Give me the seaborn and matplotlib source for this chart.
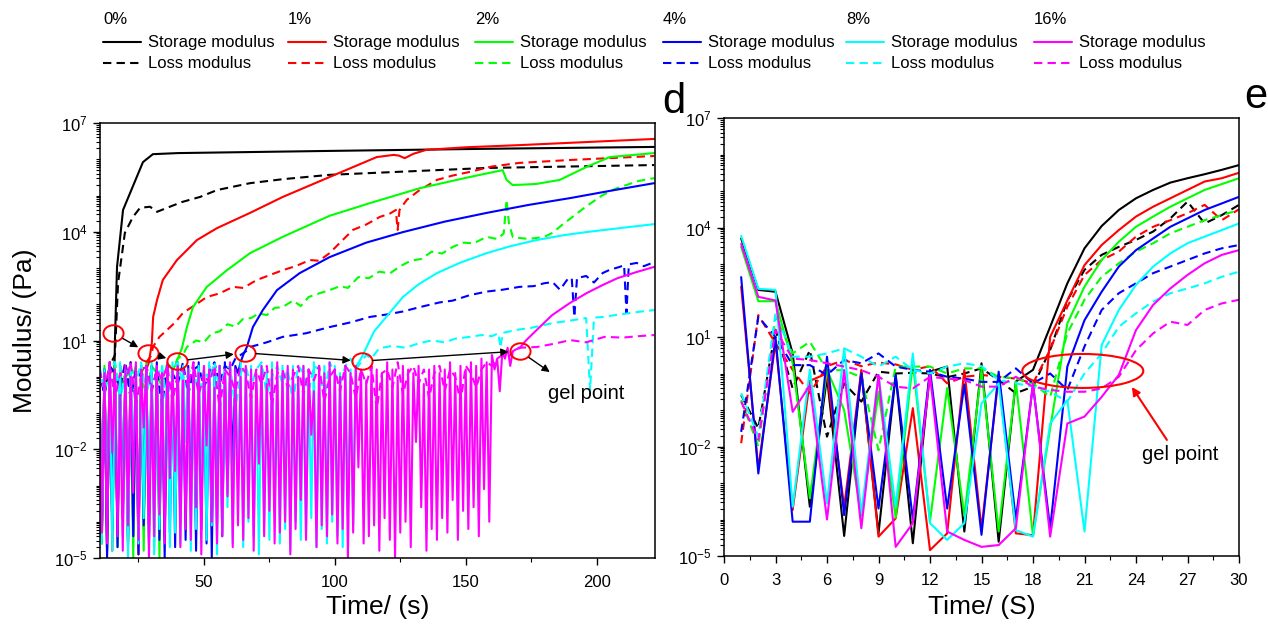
import numpy as np
import matplotlib
matplotlib.use("Agg")
import matplotlib.pyplot as plt
import seaborn as sns
from matplotlib.lines import Line2D
from matplotlib.patches import Ellipse
from matplotlib.path import Path
from matplotlib.transforms import Affine2D
from matplotlib.ticker import FixedLocator, LogLocator, MultipleLocator, NullFormatter, FuncFormatter

# ---------------------------------------------------------------- data
concentrations = ["0%", "1%", "2%", "4%", "8%", "16%"]
colors = ["#000000", "#FF0000", "#00FF00", "#0000FF", "#00FFFF", "#FF00FF"]

# ---- left panel (values are log10 of modulus in Pa); noise sampled every 1 s (storage) / 2 s (loss) from t = 10 s
s0_noise = [0.3, -4.4, 0.2, -4.8, 0.1, -4.0]
s0_t = [16.0, 16.8, 19.1, 21.8, 26.7, 30.5, 40, 98, 160, 222]
s0_v = [1.0, 3.03, 4.6, 5.07, 5.92, 6.14, 6.17, 6.23, 6.29, 6.34]
l0_noise = [0.2, -0.4, 0.3, 0.6]
l0_t = [17.2, 19.8, 22.9, 25.6, 29.4, 32.1, 35.9, 41.6, 48.5, 55, 67.6, 80.1, 98, 158, 222]
l0_v = [2.59, 3.97, 4.41, 4.66, 4.69, 4.55, 4.66, 4.82, 4.96, 5.15, 5.34, 5.45, 5.57, 5.76, 5.84]

s1_noise = [0.3, -4.6, 0.2, -4.1, 0.4, -4.8, 0.1, -4.3, 0.3, -3.9, 0.2, -4.7, 0.4, -4.4, 0.1, -4.9, 0.3, -4.2, 0.2, 0.4]
s1_t = [30.1, 30.6, 32.1, 34.3, 39.7, 47.3, 55, 67.6, 80.1, 98, 116, 122.5, 124.5, 126.7, 130, 135, 150, 170.6, 222]
s1_v = [0.93, 1.65, 2.12, 2.67, 3.22, 3.77, 4.1, 4.52, 4.96, 5.51, 6.06, 6.12, 6.1, 6.03, 6.15, 6.26, 6.33, 6.39, 6.56]
l1_noise = [0.2, -0.5, 0.3, 0.0, -0.3, 0.4, -0.6, 0.2, 0.1, 0.4, 0.6]
l1_t = [30.5, 33, 35.9, 39, 42, 46, 51.1, 56, 61.1, 65, 70.2, 75, 80.1, 85, 90.5, 94, 98, 102, 106.9, 112,
        117.2, 121, 123.3, 124.0, 124.7, 127.5, 132.4, 139, 145, 151.5, 160, 170.6, 190, 222]
l1_v = [0.82, 1.1, 1.29, 1.5, 1.76, 1.95, 2.2, 2.3, 2.48, 2.45, 2.67, 2.8, 2.94, 3.05, 3.22, 3.2, 3.41, 3.7, 4.05, 4.2,
        4.41, 4.5, 4.6, 4.05, 4.6, 4.88, 5.15, 5.43, 5.55, 5.65, 5.8, 5.9, 5.98, 6.09]

s2_noise = [0.2, -4.4, 0.3, -4.9, 0.1, -4.2, 0.4, -4.7, 0.2, -3.8, 0.3, -4.6, 0.0, -5.0, 0.3,
            -4.3, 0.2, -4.8, 0.4, -4.1, 0.1, -4.7, 0.3, -5.0, 0.2, -4.4, 0.3, -3.6, 0.2, 0.3]
s2_t = [40, 41.6, 43.5, 45.8, 51.1, 58.8, 67.6, 80.1, 98, 113.4, 132.4, 151.5, 164.1, 165.6, 167.9,
        172, 177.1, 185.9, 196.2, 205, 222]
s2_v = [0.5, 0.79, 1.37, 1.92, 2.48, 2.94, 3.41, 3.86, 4.44, 4.79, 5.2, 5.51, 5.7, 5.43, 5.29,
        5.3, 5.32, 5.43, 5.79, 6.06, 6.17]
l2_noise = [0.3, -0.4, 0.1, 0.4, -0.6, 0.2, -0.2, 0.3, 0.0, -0.5, 0.3, 0.1, -0.3, 0.4, 0.2, 0.5, 0.6]
l2_t = [43.5, 47, 50, 53, 56, 59, 62, 65, 68, 71, 74, 77, 80, 84, 87, 90, 94, 98, 102, 105, 109, 113, 117,
        121, 125, 129, 133, 137, 141, 145, 149, 153, 158, 162, 164.5, 165.6, 166.5, 168, 170.6, 174, 177.1,
        180, 183.2, 187, 190.8, 196, 202.3, 207, 211.4, 216, 222]
l2_v = [0.82, 1.0, 0.95, 1.2, 1.25, 1.45, 1.38, 1.6, 1.62, 1.75, 1.7, 1.9, 1.92, 2.1, 1.95, 2.2, 2.3, 2.39,
        2.5, 2.45, 2.75, 2.72, 2.9, 2.85, 3.05, 3.2, 3.25, 3.45, 3.4, 3.58, 3.7, 3.68, 3.86, 3.8, 3.95, 4.88,
        4.24, 3.85, 3.83, 3.8, 3.83, 3.86, 3.97, 4.2, 4.41, 4.7, 5.01, 5.18, 5.29, 5.4, 5.48]

s3_noise = [0.3, -4.5, 0.2, -5.0, 0.4, -4.2, 0.1, -4.7, 0.3, -3.9, 0.2, -4.6, 0.4, -4.4, 0.0, -4.9, 0.3, -4.1,
            0.2, -4.6, 0.3, -3.8, 0.4, -4.5, 0.1, -5.0, 0.3, -4.3, 0.2, -4.7, 0.4, -4.0, 0.2, -4.5, 0.3, -3.6,
            0.1, -4.8, 0.4, -4.2, 0.2, -4.6, 0.3, -5.0, 0.1, -4.1, 0.3, -4.4, 0.4, -3.2, 0.2, -2.5, 0.3, 0.1, 0.4]
s3_t = [65, 66.4, 68.7, 72.5, 77.9, 86.6, 98, 112, 126, 142, 158, 174, 190, 206, 222]
s3_v = [0.6, 0.82, 1.37, 1.84, 2.39, 2.86, 3.3, 3.7, 3.99, 4.28, 4.52, 4.74, 4.93, 5.14, 5.34]
l3_noise = [0.2, -0.5, 0.3, 0.1, -0.3, 0.4, -0.6, 0.2, 0.0, 0.3, -0.4, 0.2, -0.8, 0.3, 0.1,
            -0.2, 0.4, -0.5, 0.2, 0.3, -0.3, 0.1, 0.4, -0.2, 0.3, 0.2, 0.5, 0.6, 0.7]
l3_t = [67.6, 74, 80.1, 89, 98, 106, 113.4, 120, 126, 132.4, 140, 145, 151.5, 158, 164, 170.6, 176, 180,
        183.2, 186, 189, 190.5, 191.5, 192.5, 196, 199, 202.3, 205, 208.8, 210.5, 211.4, 212.3, 215.3, 218, 222]
l3_v = [0.82, 0.95, 1.1, 1.2, 1.37, 1.5, 1.65, 1.72, 1.8, 1.92, 2.05, 2.1, 2.25, 2.35, 2.4, 2.48, 2.5, 2.58,
        2.61, 2.4, 2.7, 2.72, 1.65, 2.72, 2.78, 2.6, 2.86, 2.95, 3.03, 3.08, 1.76, 3.1, 3.14, 3.05, 3.16]

s4_noise = [0.4, -4.6, 0.2, -4.0, 0.3, -4.8, 0.1, -3.7, 0.4, -4.4, 0.2, -5.0, 0.3, -2.1, 0.0, -4.6, 0.3, -3.9,
            0.2, -4.4, 0.4, -4.9, 0.1, -4.2, 0.3, -3.5, 0.2, -4.7, 0.4, -4.3, -0.3, -4.6, 0.3, -1.8, 0.2, -4.8,
            0.1, -4.2, 0.3, -3.8, 0.2, -4.5, 0.4, -4.1, 0.0, -4.9, 0.3, -4.3, 0.2, -3.6, 0.3, -4.6, 0.1, -2.7,
            0.4, -4.7, 0.2, -4.0, 0.3, -4.4, -0.2, -4.9, 0.3, -4.1, 0.2, -4.5, 0.4, -3.8, 0.1, -4.6, 0.3, -4.2,
            0.2, -4.8, 0.3, -4.0, 0.0, -4.5, 0.3, -4.3, 0.2, -3.9, 0.4, -4.7, 0.1, -4.2, 0.3, -4.6, 0.2, -4.0,
            0.3, -4.4, 0.1, -4.7, 0.3, -3.8, 0.2, -4.1]
s4_t = [108, 110, 112, 115, 120, 126, 132, 139, 148, 158, 167, 177, 187, 196, 210, 222]
s4_v = [0.27, 0.5, 0.8, 1.25, 1.68, 2.2, 2.55, 2.86, 3.15, 3.41, 3.6, 3.77, 3.9, 3.99, 4.11, 4.21]
l4_noise = [0.3, -0.4, 0.2, 0.4, -0.7, 0.1, 0.3, -0.2, 0.4, -0.5, 0.2, 0.0, 0.3, -0.8, 0.2, 0.4, -0.3, 0.1,
            0.3, -0.6, 0.2, -0.1, 0.4, -0.4, 0.2, 0.3, -0.9, 0.1, 0.3, -0.3, 0.2, 0.4, -0.5, 0.0, 0.3, -0.2,
            0.2, -0.7, 0.3, 0.1, -0.4, 0.3, 0.2, -0.6, 0.4, 0.1, -0.2, 0.3, 0.5, 0.2, 0.4, 0.6, 0.5, 0.7]
l4_t = [117.2, 122, 127, 132.4, 137, 142, 146, 151.5, 156, 160, 162.5, 163.3, 164.1, 170, 175, 183.2, 190,
        196, 197.5, 199, 202.3, 207, 212, 217, 222]
l4_v = [0.79, 0.85, 0.8, 0.93, 1.0, 0.95, 1.05, 1.1, 1.15, 1.12, 1.2, 0.8, 1.21, 1.3, 1.35, 1.48, 1.55,
        1.62, -0.37, 1.63, 1.65, 1.7, 1.75, 1.8, 1.84]

s5_noise = [0.3, -4.3, 0.1, -4.6, 0.4, -2.1, 0.2, -4.4, -0.5, -4.8, 0.3, -4.1, 0.0, -3.2, 0.4, -4.5, 0.2, -1.4,
            0.3, -5.0, -0.2, -4.4, 0.3, -3.8, 0.1, -4.6, 0.4, -2.8, 0.2, -2.6, 0.3, -4.7, -0.1, -4.2, 0.2, -4.5,
            0.4, -3.6, 0.1, -4.9, 0.3, -1.9, 0.2, -4.0, -0.3, -4.6, 0.3, -4.4, 0.1, -3.3, 0.4, -4.7, 0.2, -4.1,
            0.0, -4.5, 0.3, -3.9, 0.2, -4.8, 0.1, -2.4, 0.3, -4.4, -0.2, -3.7, 0.2, -4.6, 0.4, -4.3, 0.1, -4.0,
            0.3, -4.9, 0.2, -4.2, 0.0, -3.4, 0.3, -4.5, 0.2, -1.6, -0.4, -4.7, 0.3, -4.1, 0.1, -4.4, 0.4, -3.8,
            0.2, -4.6, 0.0, -4.2, 0.3, -5.0, 0.1, -4.3, 0.3, -2.5, 0.2, -4.6, -0.1, -4.4, 0.3, -4.1, 0.2, -4.8,
            0.1, -3.9, 0.4, -4.5, 0.2, -5.0, 0.0, -4.3, 0.3, -4.0, 0.2, -4.7, 0.1, -1.8, 0.3, -3.6, -0.2, -4.8,
            0.2, -4.2, 0.3, -4.5, 0.1, -3.9, 0.2, -4.3, 0.4, -3.4, 0.1, -4.5, 0.3, -3.7, 0.2, -4.2, 0.4, -3.6,
            0.3, -4.4, 0.5, -3.1, 0.4, -4.0,
            0.6, 0.2, 0.5, -0.4, 0.7, 0.5, 0.8, 0.3, 0.7, 0.75]
s5_t = [170.6, 173, 177.1, 183, 189.7, 196, 202.3, 208, 215.3, 222]
s5_v = [0.79, 1.0, 1.29, 1.7, 2.03, 2.3, 2.53, 2.72, 2.89, 3.03]
l5_noise = [0.2, -0.3, 0.3, -0.6, 0.1, -0.2, 0.4, -0.8, 0.0, 0.3, -0.4, 0.2, -0.1, 0.3, -0.7, 0.1, 0.2,
            -0.3, 0.4, -0.5, 0.1, -0.2, 0.3, -0.9, 0.2, 0.0, -0.4, 0.3, 0.1, -0.6, 0.2, -0.2, 0.3, -0.8,
            0.1, 0.2, -0.3, 0.0, 0.3, -0.5, 0.2, -0.1, 0.3, -0.7, 0.0, 0.2, -0.4, 0.3, 0.1, -0.6, 0.2, -0.2,
            0.3, -0.9, 0.1, 0.2, -0.3, 0.4, -0.5, 0.1, 0.3, -0.2, 0.2, -0.6, 0.1, 0.3, -0.4, 0.2, 0.0, -0.7,
            0.3, 0.1, -0.3, 0.2, 0.4, 0.3, 0.5, 0.6, 0.5, 0.7, 0.8]
l5_t = [177.1, 183, 190, 196, 203, 210, 216, 222]
l5_v = [0.82, 0.9, 1.01, 0.95, 1.1, 1.08, 1.12, 1.15]

# gel points marked on the left panel (time s, log10 modulus)
gel_t = [15.3, 28.6, 39.7, 65.6, 110.3, 170.6]
gel_v = [1.21, 0.66, 0.43, 0.66, 0.43, 0.71]

# ---- right panel (t = 1..30 s), log10 modulus
r_time = list(range(1, 31))
rs0 = [3.70, 2.29, 2.24, 0.55, -3.65, -0.1, -4.45, 0.05, -4.38, -0.05, -4.65, 0.05, 0.19, -4.33, 0.28,
       -4.61, -0.22, 0.10, 1.28, 2.47, 3.43, 4.04, 4.48, 4.80, 5.03, 5.23, 5.35, 5.46, 5.58, 5.71]
rs1 = [2.38, -2.6, 0.85, -3.74, -0.2, 0.0, -3.65, 0.1, -4.47, -3.97, -0.95, -4.84, -4.38, 0.1, -4.25,
       -0.09, -4.38, -4.43, 1.0, 2.0, 2.97, 3.52, 3.93, 4.3, 4.57, 4.8, 5.03, 5.26, 5.35, 5.5]
rs2 = [3.47, 1.98, 1.98, 0.28, -3.42, 0.1, -1.0, -3.9, -0.5, -3.95, 0.3, -4.05, -0.4, -3.9, 0.1,
       -4.33, -0.22, -4.45, -1.5, 1.37, 2.38, 3.11, 3.61, 4.02, 4.3, 4.57, 4.8, 5.03, 5.19, 5.35]
rs3 = [2.64, -2.74, 1.0, -4.06, -4.06, 0.46, -3.88, 0.0, -3.7, -0.04, -4.0, 0.1, -3.7, -0.3, -4.42,
       0.05, -4.0, -0.3, -4.25, 0.19, 1.46, 2.24, 2.93, 3.38, 3.7, 4.02, 4.25, 4.48, 4.66, 4.84]
rs4 = [3.77, 2.32, 2.29, -3.65, 0.1, -3.56, 0.69, -3.83, -0.04, -3.65, 0.55, -4.1, -4.56, -4.1, -0.82,
       -0.27, -4.29, -4.47, -1.37, -0.73, -4.33, 0.78, 1.74, 2.43, 2.93, 3.29, 3.57, 3.75, 3.93, 4.11]
rs5 = [3.55, 2.1, 2.0, -1.05, -0.32, -4.0, 0.09, -4.24, -0.04, -4.75, -4.1, -0.04, -4.33, -4.56, -4.75,
       -4.70, -4.24, -0.27, -4.47, -1.37, -1.18, -0.64, -0.04, 1.19, 1.88, 2.33, 2.7, 3.02, 3.25, 3.38]
rl0 = [-0.59, -1.5, 1.2, -0.41, 0.64, -1.73, -0.27, -0.77, 0.05, 0.0, 0.02, 0.0, -0.1, 0.0, 0.14,
       -0.18, -0.54, -0.36, 0.65, 2.0, 2.84, 3.25, 3.47, 3.66, 3.89, 4.25, 4.71, 4.11, 4.34, 4.62]
rl1 = [-1.91, 1.6, 0.83, 0.1, -0.54, 0.2, 0.37, 0.2, 0.3, 0.25, 0.1, 0.2, -0.27, -0.09, -0.04,
       -0.09, -0.14, -0.27, 0.65, 1.83, 2.7, 3.11, 3.34, 3.75, 4.02, 4.2, 4.39, 4.62, 4.2, 4.5]
rl2 = [-0.73, -2.0, 1.56, 0.55, 0.87, 0.09, 0.09, -0.1, -2.1, 0.19, 0.19, 0.19, 0.0, 0.14, 0.14,
       -0.09, -0.14, -0.27, -0.64, 1.1, 2.02, 2.65, 3.02, 3.34, 3.57, 3.84, 4.02, 4.2, 4.34, 4.48]
rl3 = [-1.6, 1.55, 1.0, 0.23, 0.23, -0.04, 0.37, 0.28, 0.55, 0.19, 0.1, 0.05, -0.09, -0.14, -0.23,
       -0.23, 0.14, -0.27, 0.0, -0.45, 0.74, 1.74, 2.2, 2.47, 2.75, 2.93, 3.11, 3.29, 3.43, 3.52]
rl4 = [-0.54, -1.73, 1.65, 0.46, 0.46, 0.55, 0.69, 0.46, 0.19, 0.46, 0.1, 0.0, 0.19, 0.28, 0.2,
       -0.18, -0.27, -0.36, -0.5, -0.77, 0.0, 0.55, 1.28, 1.65, 1.97, 2.2, 2.33, 2.47, 2.65, 2.79]
rl5 = [-0.77, -1.82, 1.19, 0.41, 0.37, 0.28, 0.19, 0.09, -0.09, -0.36, -0.41, -0.09, -0.14, -0.18, -0.36,
       -0.36, -0.09, -0.36, -0.45, -0.5, -0.5, -0.41, -0.09, 0.64, 1.1, 1.42, 1.33, 1.74, 1.92, 2.02]

# ---------------------------------------------------------------- style
sns.set_style("ticks", rc={"axes.edgecolor": "black", "xtick.color": "black", "ytick.color": "black",
                           "text.color": "black", "axes.labelcolor": "black"})
plt.rcParams["font.family"] = ["Liberation Sans", "DejaVu Sans"]
plt.rcParams["mathtext.fontset"] = "custom"
plt.rcParams["mathtext.rm"] = "Liberation Sans"
plt.rcParams["mathtext.it"] = "Liberation Sans:italic"
plt.rcParams["mathtext.default"] = "regular"

W, H = 1268, 624
fig = plt.figure(figsize=(W / 100, H / 100), dpi=100)
axL = fig.add_axes([100 / W, 1 - 558 / H, 555 / W, 435 / H])
axR = fig.add_axes([724 / W, 1 - 556 / H, 515 / W, 438 / H])

DASH = (0, (4, 2.5))
LW = 1.5


def draw(ax, t, e, color, dashed):
    sns.lineplot(x=np.asarray(t, float), y=10.0 ** np.asarray(e, float), ax=ax, color=color, lw=LW,
                 linestyle=DASH if dashed else "-", estimator=None, sort=False, errorbar=None, legend=False)


left_series = [
    (s0_noise, s0_t, s0_v, l0_noise, l0_t, l0_v),
    (s1_noise, s1_t, s1_v, l1_noise, l1_t, l1_v),
    (s2_noise, s2_t, s2_v, l2_noise, l2_t, l2_v),
    (s3_noise, s3_t, s3_v, l3_noise, l3_t, l3_v),
    (s4_noise, s4_t, s4_v, l4_noise, l4_t, l4_v),
    (s5_noise, s5_t, s5_v, l5_noise, l5_t, l5_v),
]
for c, (sn, st, sv, ln, lt, lv) in zip(colors, left_series):
    ts = np.concatenate([np.arange(10, 10 + len(sn)), st])
    draw(axL, ts, list(sn) + list(sv), c, False)
    tl = np.concatenate([np.arange(10, 10 + 2 * len(ln), 2), lt])
    draw(axL, tl, list(ln) + list(lv), c, True)

right_storage = [rs0, rs1, rs2, rs3, rs4, rs5]
right_loss = [rl0, rl1, rl2, rl3, rl4, rl5]
for c, s, l in zip(colors, right_storage, right_loss):
    draw(axR, r_time, s, c, False)
    draw(axR, r_time, l, c, True)

# ---------------------------------------------------------------- axes formatting
fmt = FuncFormatter(lambda v, p: r"$10^{%d}$" % int(round(np.log10(v))))
for ax in (axL, axR):
    ax.set_yscale("log")
    ax.set_ylim(1e-5, 1e7)
    ax.yaxis.set_major_locator(FixedLocator([1e-5, 1e-2, 1e1, 1e4, 1e7]))
    ax.yaxis.set_major_formatter(fmt)
    ax.yaxis.set_minor_locator(LogLocator(base=10, subs=np.arange(1, 10), numticks=1000))
    ax.yaxis.set_minor_formatter(NullFormatter())
    for sp in ax.spines.values():
        sp.set_linewidth(1.1)
        sp.set_visible(True)
    ax.tick_params(which="major", direction="out", length=5, width=1.0, labelsize=12, pad=4,
                   top=False, right=False)
    ax.tick_params(which="minor", direction="out", length=3, width=0.8, top=False, right=False)
    ax.tick_params(axis="x", which="major", pad=7)
    ax.set_ylabel("")

axL.set_xlim(10.3, 222.3)
axL.xaxis.set_major_locator(FixedLocator([50, 100, 150, 200]))
axL.xaxis.set_minor_locator(MultipleLocator(25))
axR.set_xlim(0, 30)
axR.xaxis.set_major_locator(MultipleLocator(3))
axR.xaxis.set_minor_locator(MultipleLocator(1.5))

axL.set_xlabel("Time/ (s)", fontsize=19)
axL.xaxis.label.set_va("center")
axL.xaxis.set_label_coords(0.5, (558 - 607) / 435)
axR.set_xlabel("Time/ (S)", fontsize=19)
axR.xaxis.label.set_va("center")
axR.xaxis.set_label_coords(0.5, (556 - 607) / 438)
fig.text(25 / W, 1 - 331 / H, "Modulus/ (Pa)", fontsize=19, rotation=90, ha="center", va="center")

# ---------------------------------------------------------------- annotations, left panel
ell_marker = Path.unit_circle().transformed(Affine2D().scale(1.0, 0.82))
gel_G = 10.0 ** np.asarray(gel_v)
axL.plot(gel_t, gel_G, ls="none", marker=ell_marker, ms=14.5, mfc="none", mec="#FF0000", mew=1.4, zorder=5)
for i in range(len(gel_t) - 1):
    axL.annotate("", xy=(gel_t[i + 1], gel_G[i + 1]), xytext=(gel_t[i], gel_G[i]),
                 arrowprops=dict(arrowstyle="-|>", color="black", lw=1.0, shrinkA=8, shrinkB=8,
                                 mutation_scale=11), zorder=6)
axL.annotate("", xy=(182.1, 10 ** 0.13), xytext=(gel_t[-1], gel_G[-1]),
             arrowprops=dict(arrowstyle="-|>", color="black", lw=1.0, shrinkA=8, shrinkB=0,
                             mutation_scale=11), zorder=6)
axL.text(181.3, 10 ** -0.45, "gel point", fontsize=14.5, ha="left", va="center")

# ---------------------------------------------------------------- annotations, right panel
axR.add_patch(Ellipse((20.9 / 30, (0.07 + 5) / 12), 0.235, 0.0776, transform=axR.transAxes,
                      fill=False, ec="#FF0000", lw=1.5, zorder=6))
axR.annotate("", xy=(23.76, 10 ** -0.37), xytext=(25.8, 10 ** -1.82),
             arrowprops=dict(arrowstyle="-|>", color="#FF0000", lw=1.5, shrinkA=0, shrinkB=0,
                             mutation_scale=12), zorder=6)
axR.text(26.56, 10 ** -2.23, "gel point", fontsize=14.5, ha="center", va="center")

fig.text(662 / W, 1 - 113 / H, "d", fontsize=30, ha="left", va="baseline")
fig.text(1244 / W, 1 - 108 / H, "e", fontsize=30, ha="left", va="baseline")

# ---------------------------------------------------------------- legend (manual, Origin-style)
col_x = [103, 288, 475, 663, 846, 1034]
for x0, lab, c in zip(col_x, concentrations, colors):
    fig.text(x0 / W, 1 - 20 / H, lab, fontsize=12, ha="left", va="center")
    fig.add_artist(Line2D([x0 / W, (x0 + 38) / W], [1 - 42 / H] * 2, color=c, lw=LW,
                          transform=fig.transFigure))
    fig.text((x0 + 45) / W, 1 - 42 / H, "Storage modulus", fontsize=12, ha="left", va="center")
    fig.add_artist(Line2D([x0 / W, (x0 + 38) / W], [1 - 63 / H] * 2, color=c, lw=LW, linestyle=DASH,
                          transform=fig.transFigure))
    fig.text((x0 + 45) / W, 1 - 63 / H, "Loss modulus", fontsize=12, ha="left", va="center")

fig.savefig("out.png", dpi=100)
